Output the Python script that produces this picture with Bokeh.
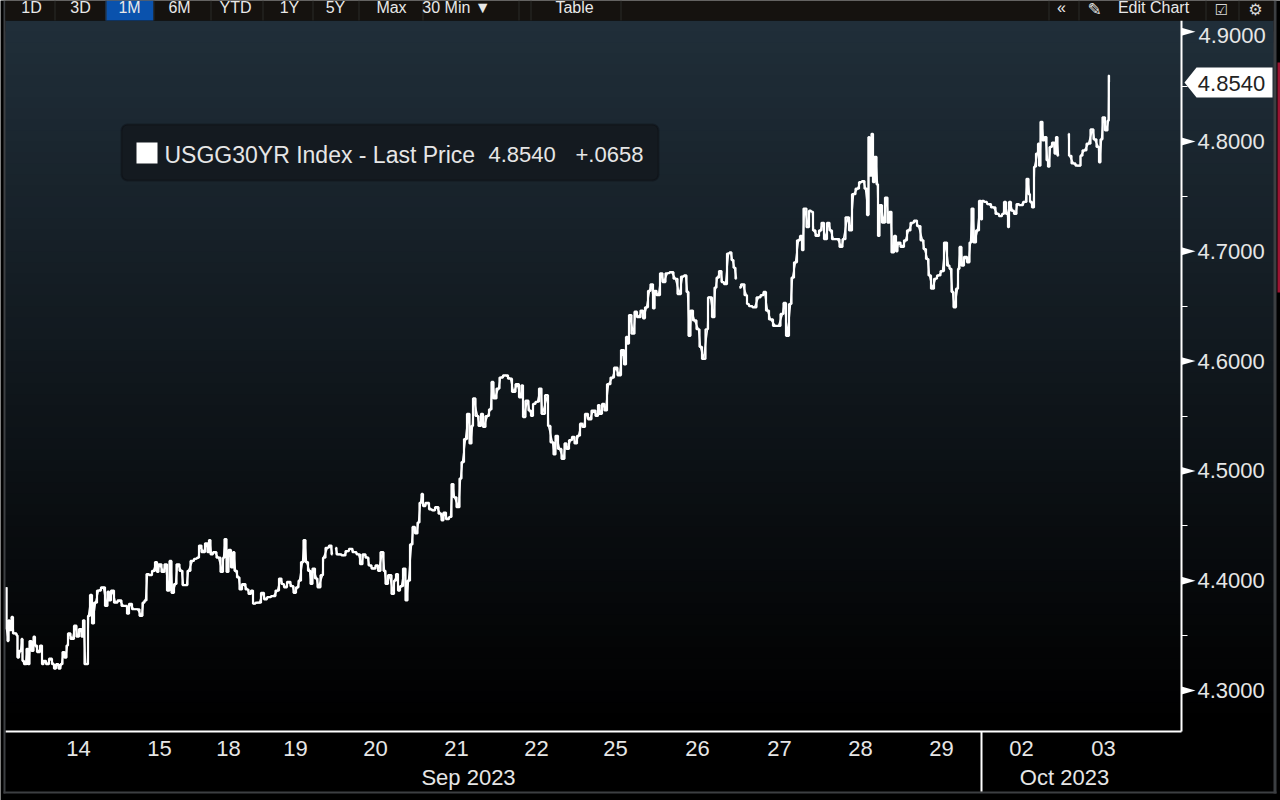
from bokeh.plotting import figure
from bokeh.models import (Range1d, FixedTicker, BoxAnnotation, PolyAnnotation, Label)
from bokeh.embed import file_html
from bokeh.resources import INLINE

NaN = float("nan")

# (trading position on the time axis, USGG30YR yield)
seg_sep13_14 = [(6,4.394),(6,4.356),(8,4.345),(8,4.364),(10,4.355),(12,4.367),(13,4.352),(15,4.352),(17,4.350),(17,4.330),
 (20,4.336),(22,4.347),(22,4.327),(25,4.324),(27,4.338),(28,4.324),(30,4.345),(32,4.336),(34,4.349),(35,4.341),
 (38,4.335),(41,4.341),(42,4.324),(44,4.327),(47,4.324),(50,4.329),(53,4.324),(54,4.320),(57,4.324),(59,4.320),
 (61,4.324),(63,4.335),(65,4.330),(67,4.341),(68,4.352),(72,4.347),(75,4.359),(77,4.349),(80,4.356),(82,4.349),
 (83,4.364),(85,4.324),(87,4.324),(88,4.368),(91,4.387),(92,4.361),(95,4.380),(98,4.391),(103,4.394),(106,4.377),
 (108,4.390),(109,4.382),(112,4.391),(115,4.380),(119,4.382),(123,4.377),(126,4.377),(127,4.370),(130,4.379),(133,4.374),(137,4.374)]
seg_sep15_18 = [(141,4.368),(143,4.380),(145,4.382),(147,4.406),(150,4.405),(153,4.409),(156,4.417),(157,4.408),(159,4.415),(163,4.408),
 (165,4.415),(168,4.391),(170,4.418),(172,4.389),(175,4.397),(177,4.415),(181,4.409),(183,4.396),(186,4.396),(188,4.409),
 (192,4.418),(195,4.420),(198,4.421),(199,4.432),(203,4.426),(206,4.434),(208,4.426),(209,4.437),(211,4.424),(214,4.426),
 (218,4.421),(222,4.408),(223,4.421),(225,4.438),(227,4.408),(229,4.428),(232,4.412),(233,4.426),(235,4.409),(238,4.403),
 (240,4.392),(243,4.397),(247,4.392),(249,4.388),(252,4.391),(253,4.379),(257,4.380),(259,4.380),(262,4.389),(265,4.383),
 (268,4.385),(273,4.386),(277,4.391)]
seg_sep19_20 = [(280,4.402),(282,4.397),(285,4.394),(288,4.399),(292,4.395),(294,4.389),(297,4.394),(299,4.400),(302,4.417),(304,4.437),
 (306,4.417),(309,4.409),(311,4.397),(313,4.411),(316,4.402),(318,4.394),(322,4.405),(323,4.421),(327,4.430),(330,4.432),(332,4.424),
 (333,NaN),(335,4.430),(337,4.424),(339,4.424),(343,4.423),(347,4.427),(350,4.429),(354,4.426),(358,4.424),(361,4.415),
 (363,4.424),(367,4.421),(369,4.414),(373,4.411),(377,4.414),(378,4.409),(382,4.426),(384,4.409),(386,4.397),(389,4.405),
 (393,4.388),(394,4.400),(397,4.406),(398,4.391),(401,4.395),(404,4.411),(406,4.382),(408,4.400),(411,4.433),(413,4.449),
 (416,4.443),(418,4.453),(420,4.471)]
seg_sep21_22 = [(422,4.479),(423,4.468),(427,4.471),(430,4.465),(433,4.464),(436,4.467),(440,4.461),(442,4.455),(444,4.462),(447,4.456),
 (450,4.458),(452,4.488),(454,4.476),(458,4.467),(460,4.493),(462,4.508),(465,4.529),(468,4.552),(470,4.525),(472,4.541),
 (473,4.566),(477,4.550),(479,4.541),(482,4.552),(483,4.540),(487,4.550),(490,4.556),(492,4.581),(494,4.566),(498,4.575),
 (500,4.585),(505,4.587),(510,4.584),(513,4.572),(517,4.579),(520,4.567),(522,4.578),(523,4.549),(527,4.564),(529,4.555),
 (532,4.550),(533,4.561),(537,4.563),(540,4.575),(542,4.552),(547,4.569),(548,4.541),(552,4.526),(554,4.515),(556,4.532),(559,4.520)]
seg_sep25_26 = [(563,4.511),(565,4.525),(567,4.520),(570,4.528),(573,4.531),(575,4.525),(578,4.532),(581,4.543),(583,4.540),(586,4.552),
 (589,4.547),(593,4.555),(597,4.550),(598,4.560),(600,4.552),(603,4.561),(605,4.555),(608,4.579),(612,4.585),(615,4.594),
 (619,4.587),(622,4.610),(625,4.597),(626,4.622),(628,4.616),(629,4.642),(633,4.625),(635,4.645),(638,4.640),(642,4.646),
 (643,4.639),(646,4.649),(649,4.664),(651,4.670),(654,4.648),(654,4.664),(658,4.660),(661,4.680),(663,4.672),(667,4.680),
 (671,4.681),(675,4.675),(679,4.661),(682,4.677),(685,4.678),(687,4.663),(689,4.623),(691,4.646),(694,4.637),(698,4.629),
 (700,4.613),(703,4.602),(707,4.629),(708,4.658),(710,4.658),(713,4.640)]
seg_sep26_27 = [(715,4.667),(717,4.676),(720,4.682),(722,4.672),(725,4.670),(728,4.698),(730,4.699),(732,4.692),(734,4.685),(736,4.675),
 (737,NaN),(739,4.667),(742,4.670),(746,4.660),(747,4.652),(750,4.650),(754,4.649),(758,4.658),(762,4.660),(764,4.663),
 (767,4.646),(770,4.638),(775,4.632),(778,4.632),(782,4.643),(784,4.653),(787,4.623),(790,4.652),(792,4.676),(795,4.690),
 (798,4.710),(801,4.714),(802,4.701),(804,4.739),(808,4.722),(809,4.737),(812,4.736),(813,4.719),(817,4.714),(820,4.719),
 (822,4.726),(825,4.711),(828,4.726),(830,4.719),(833,4.711),(837,4.711),(841,4.704),(843,4.711),(847,4.731),(850,4.719),(853,4.752)]
seg_sep28_29 = [(857,4.757),(860,4.763),(863,4.764),(865,4.757),(868,4.733),(868,4.804),(870,4.769),(872,4.807),(873,4.763),(875,4.786),
 (877,4.761),(878,4.714),(880,4.742),(883,4.726),(886,4.749),(888,4.726),(890,4.736),(892,4.699),(895,4.714),(896,4.700),
 (898,4.708),(902,4.704),(905,4.710),(908,4.719),(912,4.726),(915,4.728),(918,4.723),(922,4.710),(924,4.702),(927,4.693),
 (929,4.678),(932,4.666),(935,4.675),(938,4.678),(942,4.682),(945,4.708),(948,4.687),(950,4.684),(952,4.663),(954,4.649),
 (957,4.666),(958,4.684),(960,4.704),(962,4.687),(965,4.695),(968,4.690),(970,4.708),(972,4.739),(974,4.708),(977,4.719)]
seg_oct02_03 = [(980,4.746),(981,4.729),(982,4.746),(985,4.745),(988,4.743),(993,4.740),(997,4.734),(1000,4.732),(1003,4.734),(1004,4.745),
 (1007,4.734),(1008,4.722),(1009,4.745),(1012,4.737),(1015,4.734),(1017,4.743),(1020,4.742),(1025,4.745),(1027,4.766),(1029,4.752),
 (1030,4.745),(1033,4.740),(1034,4.777),(1037,4.789),(1038,4.798),(1039,4.778),(1041,4.818),(1043,4.801),(1045,4.804),(1047,4.783),
 (1048,4.777),(1050,4.795),(1053,4.799),(1055,4.789),(1056,4.804),(1058,4.787),(1062,NaN),(1068,4.807),(1069,4.787),(1073,4.780),
 (1077,4.778),(1080,4.778),(1080,4.787),(1084,4.792),(1088,4.798),(1092,4.811),(1094,4.802),(1098,4.795),(1099,4.781),(1101,4.802),
 (1103,4.822),(1106,4.810),(1108,4.819),(1108.5,4.860),(1108.5,4.854)]

day_ticks = [78,159,228,295,375,456,536,615,697,779,860,941,1021,1103]
day_labels = ["14","15","18","19","20","21","22","25","26","27","28","29","02","03"]
price_ticks = [4.3,4.4,4.5,4.6,4.7,4.8,4.9]
price_minor = [4.35,4.45,4.55,4.65,4.75,4.85]
last_price = 4.8540
FONT = "Liberation Sans"
TXT = "#e6e6e6"

def vy(py):
    return 4.3 + (690 - py) / 1098.0   # canvas row -> price axis, used for page chrome only

p = figure(width=1280, height=800, output_backend="svg", toolbar_location=None, tools="",
           x_range=Range1d(0, 1280), y_range=Range1d(vy(800), vy(0)),
           y_axis_location="right", min_border=0, min_border_left=0, min_border_right=0,
           min_border_top=0, min_border_bottom=0,
           background_fill_color="#000000", border_fill_color="#000000", outline_line_color=None)
p.styles = {"position": "absolute", "left": "0px", "top": "0px"}
p.grid.visible = False

# gradient backdrop
n = 64
for i in range(n):
    t = 1 - i / (n - 1)
    c = "#%02x%02x%02x" % (round(32 * t), round(46 * t), round(57 * t))
    p.add_layout(BoxAnnotation(left=5, right=1273, top=vy(20 + i * 11), bottom=vy(731),
                               fill_color=c, fill_alpha=1, line_alpha=0, level="underlay"))

# frame edges of the terminal window
for l, r, t, b, col in [(3, 5, 0, 793, "#3c3f42"), (3, 1276, 791, 793, "#3c3f42"), (1273, 1276, 0, 793, "#3c3f42"),
                        (1277, 1280, 62, 292, "#9c1432"), (5, 1273, 0, 20, "#15120f"), (105, 153, 0, 20, "#0a52ad")]:
    p.add_layout(BoxAnnotation(left=l, right=r, top=vy(t), bottom=vy(b), fill_color=col, fill_alpha=1, line_alpha=0))

# toolbar
for sx in [54, 105, 153, 210, 262, 312, 358, 422, 518, 530, 620, 1048, 1078, 1205, 1238]:
    p.add_layout(BoxAnnotation(left=sx, right=sx + 1, top=vy(0), bottom=vy(20), fill_color="#2b2a28", fill_alpha=1, line_alpha=0))
for txt, cx in [("1D", 31), ("3D", 80), ("1M", 129), ("6M", 179), ("YTD", 235), ("1Y", 289), ("5Y", 335),
                ("Max", 391), ("30 Min \u25bc", 456), ("Table", 574), ("\u00ab", 1061), ("Edit Chart", 1153)]:
    p.add_layout(Label(x=cx, y=vy(7), text=txt, text_color="#e8e8e8", text_font=FONT, text_font_size="16px",
                       text_align="center", text_baseline="middle"))
p.add_layout(Label(x=1094, y=vy(8), text="\u270e", text_color="#e8e8e8", text_font="DejaVu Sans", text_font_size="17px",
                   text_align="center", text_baseline="middle"))
p.add_layout(Label(x=1221, y=vy(9), text="\u2611", text_color="#d8d8d8", text_font="DejaVu Sans", text_font_size="15px",
                   text_align="center", text_baseline="middle"))
p.add_layout(Label(x=1255, y=vy(9), text="\u2699", text_color="#d8d8d8", text_font="DejaVu Sans", text_font_size="16px",
                   text_align="center", text_baseline="middle"))

# series
segments = [seg_sep13_14, seg_sep15_18, seg_sep19_20, seg_sep21_22, seg_sep25_26, seg_sep26_27, seg_sep28_29, seg_oct02_03]
xs, ys = [], []
for seg in segments:
    for a, b in seg:
        xs.append(a)
        ys.append(b)
p.line(xs, ys, line_color="#ffffff", line_width=1.6)
p.step(xs, ys, mode="center", line_color="#ffffff", line_width=2.2)

# axes placed inside the full-canvas frame
ax = p.yaxis[0]
ax.fixed_location = 1181
ax.bounds = (vy(731), vy(20))
ax.ticker = FixedTicker(ticks=price_ticks, minor_ticks=price_minor)
ax.major_label_overrides = {4.3: "4.3000", 4.4: "4.4000", 4.5: "4.5000", 4.6: "4.6000", 4.7: "4.7000", 4.8: "4.8000", 4.9: " "}
ax.axis_line_color = "#ffffff"
ax.axis_line_width = 2
ax.major_tick_line_color = "#ffffff"
ax.major_tick_out = 0
ax.major_tick_in = 0
ax.minor_tick_line_color = "#ffffff"
ax.minor_tick_out = 6
ax.minor_tick_in = 0
ax.major_label_standoff = 10
ax.major_label_text_color = TXT
ax.major_label_text_font = FONT
ax.major_label_text_font_size = "22px"

bx = p.xaxis[0]
bx.fixed_location = vy(731)
bx.bounds = (5, 1181)
bx.ticker = FixedTicker(ticks=day_ticks)
bx.major_label_overrides = dict(zip(day_ticks, day_labels))
bx.axis_line_color = "#ffffff"
bx.axis_line_width = 2
bx.major_tick_out = 0
bx.major_tick_in = 0
bx.minor_tick_out = 0
bx.minor_tick_in = 0
bx.major_label_standoff = 9
bx.major_label_text_color = TXT
bx.major_label_text_font = FONT
bx.major_label_text_font_size = "22px"

# tick arrows
for v in price_ticks:
    p.add_layout(PolyAnnotation(xs=[1181, 1195, 1181], ys=[v + 0.0036, v, v - 0.0036],
                                fill_color="#ffffff", fill_alpha=1, line_alpha=0))
p.add_layout(Label(x=1198, y=vy(35), text="4.9000", text_color=TXT, text_font=FONT, text_font_size="22px",
                   text_align="left", text_baseline="middle"))

# last price tag
p.add_layout(PolyAnnotation(xs=[1184, 1196, 1272, 1272, 1196], ys=[vy(82), vy(67), vy(67), vy(97), vy(97)],
                            fill_color="#ffffff", fill_alpha=1, line_alpha=0))
p.add_layout(Label(x=1231, y=vy(83), text="%.4f" % last_price, text_color="#222222", text_font=FONT,
                   text_font_size="22px", text_align="center", text_baseline="middle"))

# month row
p.add_layout(BoxAnnotation(left=980, right=982, top=vy(731), bottom=vy(791), fill_color="#ffffff", fill_alpha=1, line_alpha=0))
for txt, cx in [("Sep 2023", 468), ("Oct 2023", 1064)]:
    p.add_layout(Label(x=cx, y=vy(777), text=txt, text_color=TXT, text_font=FONT, text_font_size="22px",
                       text_align="center", text_baseline="middle"))

# legend
p.add_layout(BoxAnnotation(left=121, right=658, top=vy(124), bottom=vy(180), fill_color="#141a20", fill_alpha=1,
                           line_color="#05070a", line_width=2, border_radius=6))
p.add_layout(BoxAnnotation(left=136, right=157, top=vy(142), bottom=vy(163), fill_color="#ffffff", fill_alpha=1, line_alpha=0))
p.add_layout(Label(x=164, y=vy(154), text="USGG30YR Index - Last Price", text_color=TXT, text_font=FONT,
                   text_font_size="23px", text_align="left", text_baseline="middle"))
p.add_layout(Label(x=488, y=vy(154), text="%.4f" % last_price, text_color=TXT, text_font=FONT,
                   text_font_size="22px", text_align="left", text_baseline="middle"))
p.add_layout(Label(x=575, y=vy(154), text="+.0658", text_color=TXT, text_font=FONT,
                   text_font_size="22px", text_align="left", text_baseline="middle"))

open("out.html", "w").write(file_html(p, INLINE))
